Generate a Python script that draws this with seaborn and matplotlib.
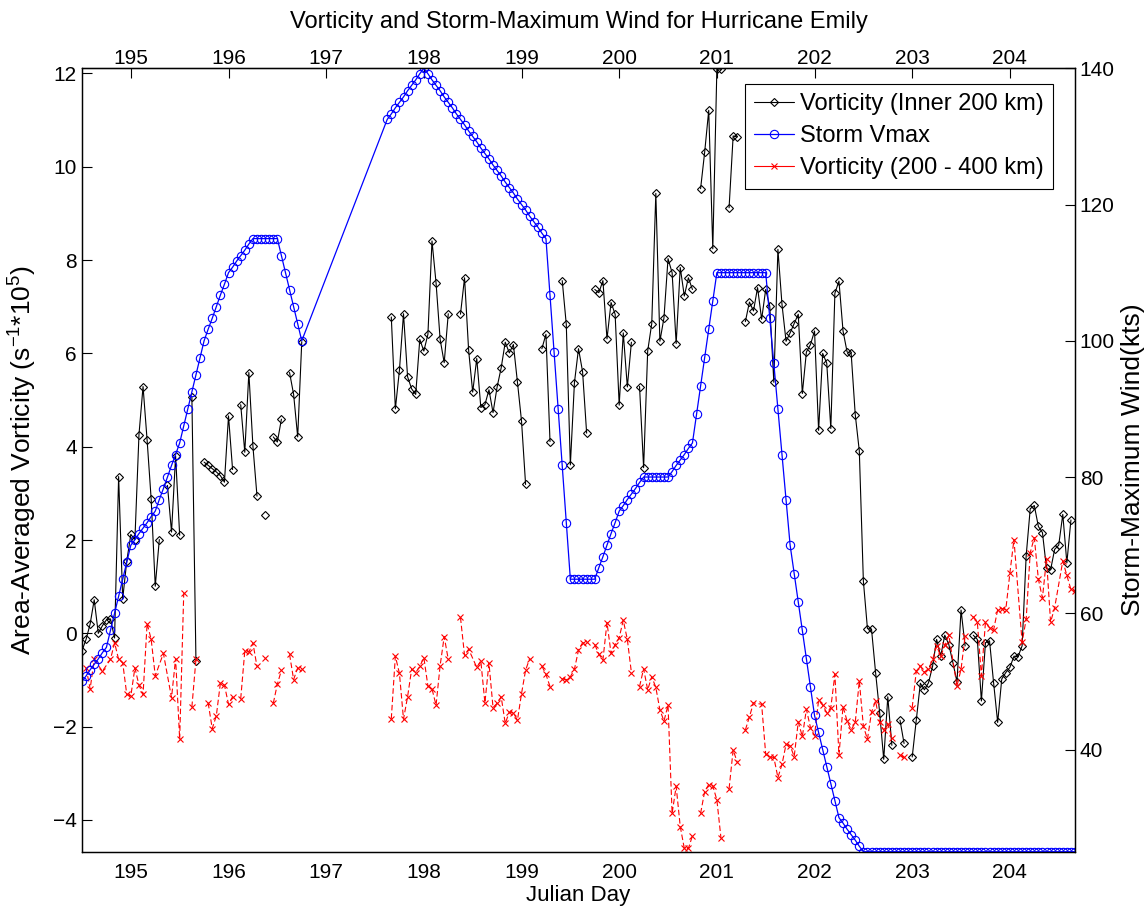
import numpy as np
import pandas as pd
import matplotlib
matplotlib.use("Agg")
import matplotlib.pyplot as plt
from matplotlib.lines import Line2D
import seaborn as sns

nan = np.nan

# hourly samples starting at day 194.5 (194 12Z); gap with no data 196.8 - 197.6
start_day = 194.5

vmax_hours = list(range(0, 55)) + list(range(75, 245))
vmax_kts = ([50, 50.8, 51.7, 52.5, 53.3, 54.2, 55,
             57.5, 60, 62.5, 65, 67.5, 70,
             70.8, 71.7, 72.5, 73.3, 74.2, 75,
             76.7, 78.3, 80, 81.7, 83.3, 85,
             87.5, 90, 92.5, 95, 97.5, 100,
             101.7, 103.3, 105, 106.7, 108.3, 110,
             110.8, 111.7, 112.5, 113.3, 114.2, 115,
             115, 115, 115, 115, 115, 115,
             112.5, 110, 107.5, 105, 102.5, 100]
            + [132.5, 133.3, 134.2, 135, 135.8, 136.7, 137.5, 138.3, 139.2, 140,
               139.2, 138.3, 137.5, 136.7, 135.8, 135, 134.2, 133.3, 132.5, 131.7,
               130.8, 130, 129.2, 128.3, 127.5, 126.7, 125.8, 125, 124.2, 123.3,
               122.5, 121.7, 120.8, 120, 119.2, 118.3, 117.5, 116.7, 115.8, 115,
               106.7, 98.3, 90, 81.7, 73.3, 65,
               65, 65, 65, 65, 65, 65,
               66.7, 68.3, 70, 71.7, 73.3, 75,
               75.8, 76.7, 77.5, 78.3, 79.2, 80,
               80, 80, 80, 80, 80, 80,
               80.8, 81.7, 82.5, 83.3, 84.2, 85,
               89.2, 93.3, 97.5, 101.7, 105.8, 110]
            + [110] * 12
            + [103.3, 96.7, 90, 83.3, 76.7, 70,
               65.8, 61.7, 57.5, 53.3, 49.2, 45,
               42.5, 40, 37.5, 35, 32.5, 30,
               29.2, 28.3, 27.5, 26.7, 25.8, 25]
            + [25] * 52)

inner_hours = list(range(0, 55)) + list(range(75, 245))
inner_vort = [
    -0.37, -0.13, 0.2, 0.72, 0.0, 0.16, 0.29, 0.31, -0.1, 3.36,
    0.74, 1.55, 2.12, 2.01, 4.26, 5.29, 4.14, 2.87, 1.01, 2.01,
    nan, 3.17, 2.17, 3.8, 2.1, nan, nan, 5.06, -0.59, nan,
    3.67, 3.6, 3.53, 3.46, 3.38, 3.24, 4.66, 3.51, nan, 4.9,
    3.88, 5.59, 4.01, 2.94, nan, 2.53, nan, 4.21, 4.1, 4.59,
    nan, 5.59, 5.12, 4.21, 6.25,
    # 75 ->
    nan, 6.78, 4.81, 5.64, 6.85,
    5.5, 5.24, 5.12, 6.3, 6.05, 6.41, 8.41, 7.51, 6.3, 5.8,
    6.85, nan, nan, 6.84, 7.62, 6.07, 5.17, 5.89, 4.84, 4.9,
    5.22, 4.73, 5.28, 5.69, 6.24, 6.01, 6.19, 5.38, 4.55, 3.19,
    nan, nan, nan, 6.1, 6.41, 4.11, nan, nan, 7.56, 6.62,
    3.61, 5.37, 6.1, 5.61, 4.29, nan, 7.37, 7.3, 7.56, 6.31,
    7.09, 6.84, 4.89, 6.44, 5.28, 6.24, nan, 5.29, 3.55, 6.05,
    6.64, 9.43, 6.26, 6.76, 8.03, 7.73, 6.21, 7.84, 7.23, 7.62,
    7.37, nan, 9.53, 10.31, 11.21, 8.24, 12.1, 12.09, nan, 9.12,
    10.66, 10.64, nan, 6.68, 7.1, 6.91, 7.41, 6.73, 7.37, 7.01,
    5.38, 8.23, 7.05, 6.26, 6.44, 6.64, 6.84, 5.14, 6.03, 6.19,
    6.48, 4.35, 6.0, 5.79, 4.39, 7.29, 7.55, 6.48, 6.03, 6.0,
    4.69, 3.91, 1.12, 0.1, 0.09, -0.84, -1.7, -2.7, -1.36, -2.4,
    nan, -1.86, -2.36, nan, -2.65, -1.86, -1.07, -1.21, -1.06, -0.71,
    -0.13, -0.49, -0.04, -0.24, -0.63, -1.04, 0.5, -0.27, nan, -0.04,
    -0.13, -1.45, -0.2, -0.16, -1.06, -1.91, -0.98, -0.84, -0.73, -0.49,
    -0.5, -0.27, 1.66, 2.67, 2.74, 2.29, 2.16, 1.39, 1.36, 1.8,
    1.89, 2.55, 1.51, 2.43, nan,
]

outer_hours = ([1, 2, 3, 5] + list(range(7, 19)) + [20] + list(range(22, 30))
               + list(range(31, 56))
               + list(range(76, 92)) + list(range(93, 96)) + list(range(97, 112))
               + list(range(113, 117)) + list(range(118, 137)) + list(range(137, 159))
               + list(range(159, 166)) + list(range(167, 214)) + list(range(215, 230))
               + list(range(231, 240)) + list(range(241, 245)))
outer_vort = [
    -0.74, -1.19, -0.56, -0.81,
    -0.56, -0.2, -0.56, -0.63, -1.31, -1.34, -0.74, -1.11, -1.31, 0.21, -0.13, -0.91,
    -0.43,
    -1.38, -0.54, -2.27, 0.86, nan, -1.58, -0.56, nan,
    -1.49, -2.04, -1.77, -1.07, -1.11, -1.52, -1.36, nan, -1.4, -0.38, -0.4, -0.21,
    -0.71, nan, -0.52, nan, -1.5, -1.09, -0.79, nan, -0.45, -0.99, -0.74, -0.76, nan,
    # 76 ->
    -1.83, -0.49, -0.86, -1.84, -1.36, -0.77, -0.84, -0.71, -0.52, -1.13, -1.19,
    -1.54, -0.69, -0.07, -0.56, nan,
    0.34, -0.47, -0.34,
    -0.73, -0.59, -1.49, -0.64, -1.59, -1.5, -1.36, -1.93, -1.69, -1.71, -1.86,
    -1.29, -0.79, -0.54, nan,
    -0.7, -0.88, -1.14, nan,
    -0.97, -1.0, -0.93, -0.77, -0.36, -0.2, -0.19, nan,
    -0.24, -0.45, -0.57, 0.23, -0.43, -0.24, -0.09, 0.28, -0.13, -0.84, nan,
    -1.14, -0.76, -1.21, -0.93, -1.16, -1.64, -1.88, -1.54, -3.86, -3.28, -4.14,
    -4.61, -4.61, -4.34, nan, -3.86, -3.39, -3.24, -3.27, -3.57, -4.38, nan,
    -3.33, -2.5, -2.76, nan, -2.07, -1.79, -1.49,
    -1.52, -2.59, -2.65, -2.66, -3.09, -2.81, -2.38, -2.41, -2.64, -1.9, -2.21,
    -1.63, -2.02, -2.19, -1.43, -1.54, -1.7, -1.59, -0.88, -2.61, -1.57, -1.88,
    -2.07, -1.91, -1.02, -1.99, -2.27, -1.69, -1.45, -1.91, -2.07, -1.95, -2.24,
    nan, -2.61, -2.66, nan,
    -1.59, -0.81, -0.7, -0.83, -0.77, -0.56, -0.27, -0.49, -0.26, -0.04,
    -1.13, -0.77, -0.06, nan, 0.36, 0.24, -0.91, 0.24, 0.12, 0.07, 0.51, 0.53,
    0.51, 1.29, 2.01,
    -0.19, 0.3, 1.73, 2.05, 1.16, 0.76, 1.59, 0.24, 0.55,
    1.55, 1.24, 0.94, 0.9,
]

day_ticks = list(range(195, 205))
title = "Vorticity and Storm-Maximum Wind for Hurricane Emily"
labels = ["Vorticity (Inner 200 km)", "Storm Vmax", "Vorticity (200 - 400 km)"]


def to_frame(hours, values):
    df = pd.DataFrame({"day": start_day + np.asarray(hours) / 24.0, "value": values})
    # NaN entries break the line into separate pieces
    df["seg"] = df["value"].isna().cumsum()
    return df.dropna()


sns.set_style("white", {"axes.edgecolor": "black", "text.color": "black",
                        "axes.labelcolor": "black", "xtick.color": "black",
                        "ytick.color": "black"})
plt.rcParams["font.family"] = ["Liberation Sans", "DejaVu Sans"]
plt.rcParams["mathtext.default"] = "regular"

fig = plt.figure(figsize=(11.46, 9.10), dpi=100)
ax = fig.add_axes([82 / 1146, 58.3 / 910, 993 / 1146, 783.4 / 910])
ax2 = ax.twinx()

blue = (0, 0, 1)
red = (1, 0, 0)

inner = to_frame(inner_hours, inner_vort)
outer = to_frame(outer_hours, outer_vort)
vmax = to_frame(vmax_hours, vmax_kts)

sns.lineplot(data=inner, x="day", y="value", units="seg", estimator=None, ax=ax,
             color="k", linewidth=0.8, marker="D", markersize=4.2,
             markerfacecolor="none", markeredgecolor="k", markeredgewidth=0.8)
sns.lineplot(data=outer, x="day", y="value", units="seg", estimator=None, ax=ax,
             color=red, linewidth=0.8, dashes=(5, 2.5), marker="x", markersize=4.5,
             markeredgecolor=red, markeredgewidth=0.8)
sns.lineplot(data=vmax, x="day", y="value", estimator=None, ax=ax2,
             color=blue, linewidth=0.9, marker="o", markersize=6,
             markerfacecolor="none", markeredgecolor=blue, markeredgewidth=0.8)

ax.set_xlim(194.5, 204.6667)
ax.set_ylim(-4.68, 12.11)
ax2.set_ylim(25, 140)
ax.set_xticks(day_ticks)
ax.set_yticks(range(-4, 13, 2))
ax2.set_yticks(range(40, 141, 20))

ax.tick_params(axis="x", direction="in", length=7, width=0.8, pad=8, labelsize=15, top=False)
ax.tick_params(axis="y", direction="in", length=7, width=0.8, pad=3.8, labelsize=15, right=False)
ax2.tick_params(axis="y", direction="in", length=7, width=0.8, pad=3.5, labelsize=15)

top = ax.secondary_xaxis("top")
top.set_xticks(day_ticks)
top.tick_params(direction="in", length=7, width=0.8, pad=0, labelsize=15)

for a in (ax, ax2):
    for s in a.spines.values():
        s.set_linewidth(0.9)
        s.set_color("black")

ax.set_xlabel("Julian Day", fontsize=16, labelpad=2)
ax.set_ylabel("Area-Averaged Vorticity (s$^{-1}$*10$^{5}$)", fontsize=19)
ax.yaxis.set_label_coords(-0.043, 0.5)
ax2.set_ylabel("Storm-Maximum Wind(kts)", fontsize=19)
ax2.yaxis.set_label_coords(1.046, 0.5)
ax.set_title(title, fontsize=17, pad=15)

handles = [
    Line2D([], [], color="k", linewidth=0.8, marker="D", markersize=4.2,
           markerfacecolor="none", markeredgecolor="k", markeredgewidth=0.8),
    Line2D([], [], color=blue, linewidth=0.9, marker="o", markersize=6,
           markerfacecolor="none", markeredgecolor=blue, markeredgewidth=0.8),
    Line2D([], [], color=red, linewidth=0.8, marker="x", markersize=4.5,
           markeredgecolor=red, markeredgewidth=0.8),
]
leg = ax2.legend(handles, labels, loc="upper right",
                 bbox_to_anchor=(1053.3 / 1146, 1 - 84 / 910),
                 bbox_transform=fig.transFigure, borderaxespad=0, fontsize=17,
                 frameon=True, fancybox=False, edgecolor="k", framealpha=1,
                 handlelength=1.7, handletextpad=0.25, labelspacing=0.42,
                 borderpad=0.4, numpoints=1)
leg.get_frame().set_linewidth(0.8)

fig.savefig("out.png", dpi=100)
